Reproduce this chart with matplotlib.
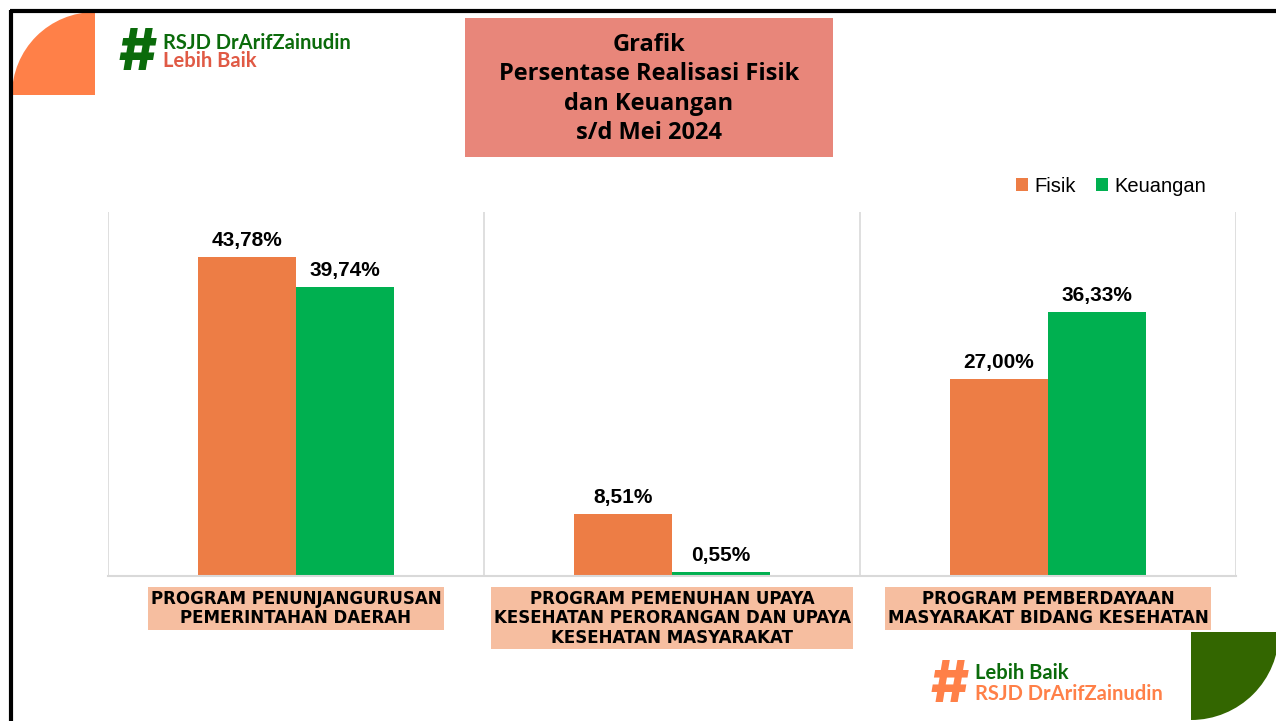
import matplotlib.pyplot as plt
from matplotlib.patches import Rectangle, Wedge

# data
categories = ['PROGRAM PENUNJANGURUSAN\nPEMERINTAHAN DAERAH',
              'PROGRAM PEMENUHAN UPAYA\nKESEHATAN PERORANGAN DAN UPAYA\nKESEHATAN MASYARAKAT',
              'PROGRAM PEMBERDAYAAN\nMASYARAKAT BIDANG KESEHATAN']
fisik = [43.78, 8.51, 27.00]
keuangan = [39.74, 0.55, 36.33]
series_names = ['Fisik', 'Keuangan']
title_text = 'Grafik\nPersentase Realisasi Fisik\ndan Keuangan\ns/d Mei 2024'

c_orange = '#ED7D45'
c_green = '#00B050'

W, H = 1276, 721
fig = plt.figure(figsize=(W / 100, H / 100), dpi=100)

# background layer in pixel coordinates
bg = fig.add_axes([0, 0, 1, 1])
bg.set_xlim(0, W)
bg.set_ylim(H, 0)
bg.axis('off')

# corner decorations
bg.add_patch(Wedge((95, 95), 83, 180, 270, color='#FF8048', lw=0))
bg.add_patch(Wedge((1191, 632), 88, 0, 90, color='#336600', lw=0))
# frame (top + left only)
bg.plot([10, W], [11, 11], color='black', lw=3, solid_capstyle='butt')
bg.plot([11, 11], [10, H], color='black', lw=3, solid_capstyle='butt')

# title box
bg.add_patch(Rectangle((465, 18), 368, 139, color='#E8867A', lw=0))
bg.text(649, 89, title_text, ha='center', va='center', fontsize=17,
        fontweight='bold', family='Open Sans', linespacing=1.3, color='black')

# logo top-left
bg.text(138, 70, '#', ha='center', va='baseline', fontsize=42, fontweight='heavy',
        family='Inter', color='#0B6B0B')
bg.text(163, 49, 'RSJD DrArifZainudin', ha='left', va='baseline', fontsize=14.5,
        fontweight='bold', family='Lato', color='#0B6B0B')
bg.text(163, 67, 'Lebih Baik', ha='left', va='baseline', fontsize=14.5,
        fontweight='bold', family='Lato', color='#E05A45')

# logo bottom-right
bg.text(950, 702, '#', ha='center', va='baseline', fontsize=42, fontweight='heavy',
        family='Inter', color='#FF8048')
bg.text(975, 679, 'Lebih Baik', ha='left', va='baseline', fontsize=14.5,
        fontweight='bold', family='Lato', color='#0B6B0B')
bg.text(975, 700, 'RSJD DrArifZainudin', ha='left', va='baseline', fontsize=14.5,
        fontweight='bold', family='Lato', color='#FF8048')

# chart
ax = fig.add_axes([108 / W, 1 - 576 / H, 1128 / W, 364 / H])
ax.patch.set_alpha(0)
x = list(range(len(categories)))
bw = 0.26
b1 = ax.bar([i - bw / 2 for i in x], fisik, bw, color=c_orange, label=series_names[0])
b2 = ax.bar([i + bw / 2 for i in x], keuangan, bw, color=c_green, label=series_names[1])
ax.set_xlim(-0.5, len(categories) - 0.5)
ax.set_ylim(0, 50)

for bars, vals in [(b1, fisik), (b2, keuangan)]:
    for b, v in zip(bars, vals):
        ax.annotate(f'{v:.2f}%'.replace('.', ','), (b.get_x() + b.get_width() / 2, v),
                    xytext=(0, 5), textcoords='offset points', ha='center', va='bottom',
                    fontsize=15, fontweight='bold', family='Liberation Sans')

for s in ['top', 'left', 'right']:
    ax.spines[s].set_visible(False)
ax.spines['bottom'].set_color('#D9D9D9')
ax.spines['bottom'].set_linewidth(1.5)
ax.set_xticks([i - 0.5 for i in range(len(categories) + 1)])
ax.set_xticklabels([])
ax.set_yticks([])
ax.tick_params(axis='x', length=0)
ax.grid(axis='x', color='#D9D9D9', lw=1.2)
ax.set_axisbelow(True)

# category labels in boxes
for i, lab in enumerate(categories):
    ax.annotate(lab, (i, 0), xytext=(0, -10), textcoords='offset points',
                ha='center', va='top', fontsize=12, fontweight='bold',
                family='DejaVu Sans', linespacing=1.1,
                bbox=dict(boxstyle='square,pad=0.15', fc='#F6BEA0', ec='none'))

fig.legend(handles=[b1, b2], labels=series_names, loc='center',
           bbox_to_anchor=(1111 / W, 1 - 186 / H), ncol=2, frameon=False,
           prop={'family': 'Liberation Sans', 'size': 14.5},
           handlelength=0.6, handleheight=0.6, handletextpad=0.3, columnspacing=1.0)

fig.savefig('out.png', dpi=100)
